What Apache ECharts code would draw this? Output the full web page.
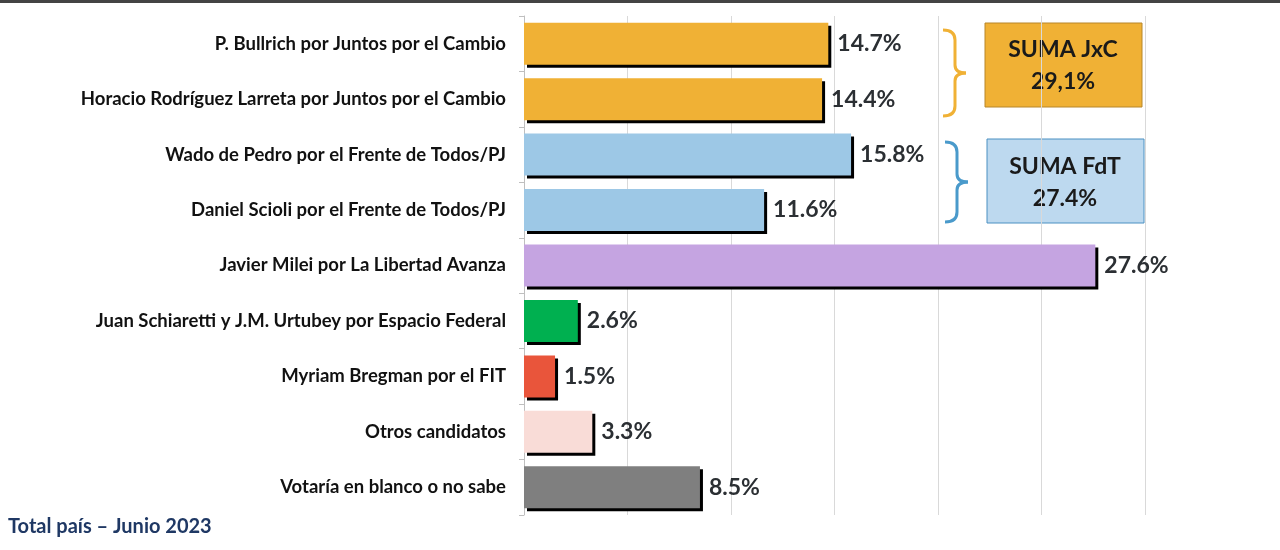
<!DOCTYPE html>
<html>
<head>
<meta charset="utf-8">
<script src="https://cdn.jsdelivr.net/npm/echarts@6/dist/echarts.min.js"></script>
<style>
  html, body { margin: 0; padding: 0; background: #fff; }
  #chart { width: 1280px; height: 550px; }
</style>
</head>
<body>
<div id="chart"></div>
<script>
// categories from top to bottom
const candidates = [
  'P. Bullrich por Juntos por el Cambio',
  'Horacio Rodríguez Larreta por Juntos por el Cambio',
  'Wado de Pedro por el Frente de Todos/PJ',
  'Daniel Scioli por el Frente de Todos/PJ',
  'Javier Milei por La Libertad Avanza',
  'Juan Schiaretti y J.M. Urtubey por Espacio Federal',
  'Myriam Bregman por el FIT',
  'Otros candidatos',
  'Votaría en blanco o no sabe'
];
const votes = [14.7, 14.4, 15.8, 11.6, 27.6, 2.6, 1.5, 3.3, 8.5];
const barColors = ['#F0B135', '#F0B135', '#9DC8E6', '#9DC8E6', '#C5A4E1', '#00B050', '#E9553B', '#F9DCD7', '#7F7F7F'];

const sumJxC = '29,1%';
const sumFdT = '27.4%';
const footer = 'Total país – Junio 2023';

const font = 'Lato, "Open Sans", sans-serif';

let chart = echarts.init(document.getElementById('chart'));

// echarts draws category axis bottom-up, so reverse
const cats = candidates.slice().reverse();
const vals = votes.map(function (v, i) {
  return { value: v, itemStyle: { color: barColors[i] } };
}).reverse();

// curly bracket "}" as a set of graphic pieces
function bracket(x, top, bottom, tipX, color) {
  const mid = (top + bottom) / 2;
  const r = 10;
  const style = { stroke: color, lineWidth: 3, fill: null };
  return [
    { type: 'bezierCurve', shape: { x1: x - 12, y1: top, cpx1: x, cpy1: top, x2: x, y2: top + r }, style: style },
    { type: 'line', shape: { x1: x, y1: top + r, x2: x, y2: mid - 8 }, style: style },
    { type: 'bezierCurve', shape: { x1: x, y1: mid - 8, cpx1: x, cpy1: mid, x2: tipX, y2: mid }, style: style },
    { type: 'bezierCurve', shape: { x1: tipX, y1: mid, cpx1: x, cpy1: mid, x2: x, y2: mid + 8 }, style: style },
    { type: 'line', shape: { x1: x, y1: mid + 8, x2: x, y2: bottom - r }, style: style },
    { type: 'bezierCurve', shape: { x1: x, y1: bottom - r, cpx1: x, cpy1: bottom, x2: x - 12, y2: bottom }, style: style }
  ];
}

chart.setOption({
  animation: false,
  grid: { left: 524, right: 135, top: 16, bottom: 35 },
  xAxis: {
    type: 'value',
    min: 0,
    max: 30,
    interval: 5,
    axisLabel: { show: false },
    axisLine: { show: false },
    axisTick: { show: false },
    splitLine: { lineStyle: { color: '#d9d9d9', width: 1 } }
  },
  yAxis: {
    type: 'category',
    data: cats,
    axisLine: { lineStyle: { color: '#bfbfbf', width: 1 } },
    axisTick: { show: true, length: 5, lineStyle: { color: '#bfbfbf' } },
    axisLabel: {
      color: '#111',
      fontFamily: font,
      fontWeight: 'bold',
      fontSize: 18.5,
      margin: 18
    }
  },
  series: [{
    type: 'bar',
    data: vals,
    barWidth: 42,
    itemStyle: {
      shadowColor: '#000',
      shadowBlur: 0,
      shadowOffsetX: 3,
      shadowOffsetY: 3
    },
    label: {
      show: true,
      position: 'right',
      distance: 9,
      formatter: function (p) { return p.value.toFixed(1) + '%'; },
      color: '#2b2f33',
      fontFamily: font,
      fontWeight: 'bold',
      fontSize: 23
    }
  }],
  graphic: [
    // top border line
    { type: 'rect', shape: { x: 0, y: 0, width: 1280, height: 3 }, style: { fill: '#444' } }
  ].concat(
    bracket(955, 30, 116, 966, '#F0B135'),
    bracket(957, 142, 222, 968, '#4A9ACB'),
    [
      // JxC box
      {
        type: 'rect',
        shape: { x: 985, y: 23, width: 157, height: 84 },
        style: { fill: '#F0B135', stroke: '#B7862A', lineWidth: 1 }
      },
      {
        type: 'text',
        x: 1063, y: 66,
        style: {
          text: 'SUMA JxC\n' + sumJxC,
          align: 'center', verticalAlign: 'middle',
          fill: '#1a1a1a', font: 'bold 23px ' + font, lineHeight: 32
        }
      },
      // FdT box
      {
        type: 'rect',
        shape: { x: 987, y: 139, width: 157, height: 84 },
        style: { fill: '#BDD9EF', stroke: '#4A90C2', lineWidth: 1 }
      },
      {
        type: 'text',
        x: 1065, y: 183,
        style: {
          text: 'SUMA FdT\n' + sumFdT,
          align: 'center', verticalAlign: 'middle',
          fill: '#1a1a1a', font: 'bold 23px ' + font, lineHeight: 32
        }
      },
      // footer
      {
        type: 'text',
        left: 8, top: 517,
        style: { text: footer, fill: '#1F3864', font: 'bold 20px ' + font }
      }
    ]
  )
});
</script>
</body>
</html>
